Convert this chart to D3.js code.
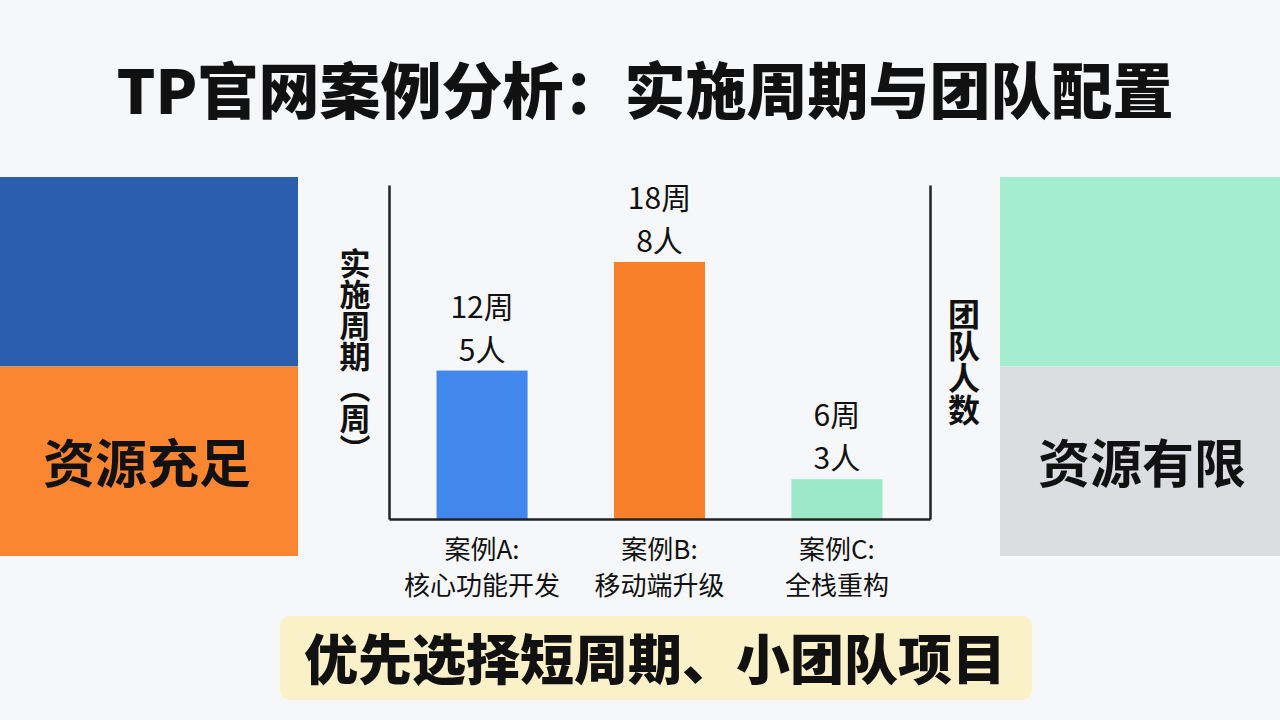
<!DOCTYPE html>
<html>
<head>
<meta charset="utf-8">
<script src="https://cdn.jsdelivr.net/npm/d3@7"></script>
<style>
  html, body { margin: 0; padding: 0; background: #f6f7f9; }
  svg { display: block; font-family: "Noto Sans CJK SC", "Noto Sans", sans-serif; }
</style>
</head>
<body>
<svg id="drawing_region"></svg>
<script>
// chart data
const cases = ['案例A:', '案例B:', '案例C:'];
const caseNames = ['核心功能开发', '移动端升级', '全栈重构'];
const weeks = [12, 18, 6];
const people = [5, 8, 3];
const barColors = ['#4287ec', '#f9802a', '#9de8c9'];

// side panels
const leftColors = ['#2b5fad', '#fb8631'];
const rightColors = ['#a4edd1', '#dcdde1'];
const leftLabel = '资源充足';
const rightLabel = '资源有限';

const title = 'TP官网案例分析：实施周期与团队配置';
const ylabel = '实施周期（周）';
const y2label = '团队人数';
const banner = '优先选择短周期、小团队项目';

const width = 1280, height = 720;
const svg = d3.select('#drawing_region')
    .attr('width', width)
    .attr('height', height);

svg.append('rect')
    .attr('width', width).attr('height', height)
    .attr('fill', '#f6f7f9');

// title
svg.append('text')
    .attr('x', 645)
    .attr('y', 114)
    .attr('text-anchor', 'middle')
    .style('font-size', '61px')
    .style('font-weight', 900)
    .attr('fill', '#111')
    .text(title);

// side panels, two halves each
const panelY = d3.scaleBand().domain([0, 1]).range([177, 556]);

const left = svg.append('g');
left.selectAll('rect')
    .data(leftColors)
    .join('rect')
    .attr('x', 0)
    .attr('y', (d, i) => panelY(i))
    .attr('width', 298)
    .attr('height', panelY.bandwidth())
    .attr('fill', d => d);
left.append('text')
    .attr('x', 147)
    .attr('y', 483)
    .attr('text-anchor', 'middle')
    .style('font-size', '52px')
    .style('font-weight', 700)
    .attr('fill', '#111')
    .text(leftLabel);

const right = svg.append('g');
right.selectAll('rect')
    .data(rightColors)
    .join('rect')
    .attr('x', 1000)
    .attr('y', (d, i) => panelY(i))
    .attr('width', 280)
    .attr('height', panelY.bandwidth())
    .attr('fill', d => d);
right.append('text')
    .attr('x', 1142)
    .attr('y', 483)
    .attr('text-anchor', 'middle')
    .style('font-size', '52px')
    .style('font-weight', 700)
    .attr('fill', '#111')
    .text(rightLabel);

// bar chart
const plot = {left: 389, right: 930, top: 185, bottom: 519};

const xscale = d3.scaleBand()
    .domain(cases)
    .range([plot.left, plot.right])
    .paddingInner(0.487)
    .paddingOuter(0.268);

const yscale = d3.scaleLinear()
    .domain([3.8, 22.25])
    .range([plot.bottom, plot.top]);

const chart = svg.append('g');

chart.selectAll('rect.bar')
    .data(weeks)
    .join('rect')
    .attr('class', 'bar')
    .attr('x', (d, i) => xscale(cases[i]))
    .attr('y', d => yscale(d))
    .attr('width', xscale.bandwidth())
    .attr('height', d => plot.bottom - yscale(d))
    .attr('fill', (d, i) => barColors[i]);

// value labels
const labels = chart.selectAll('text.val')
    .data(weeks)
    .join('text')
    .attr('class', 'val')
    .attr('text-anchor', 'middle')
    .style('font-size', '30px')
    .attr('fill', '#111');
labels.append('tspan')
    .attr('x', (d, i) => xscale(cases[i]) + xscale.bandwidth() / 2)
    .attr('y', d => yscale(d) - 53)
    .text(d => d + '周');
labels.append('tspan')
    .attr('x', (d, i) => xscale(cases[i]) + xscale.bandwidth() / 2)
    .attr('y', d => yscale(d) - 10)
    .text((d, i) => people[i] + '人');

// axes lines (no ticks)
const xaxis = d3.axisBottom(xscale).tickSize(0).tickFormat('');
chart.append('g')
    .attr('transform', `translate(0, ${plot.bottom})`)
    .call(xaxis)
    .call(g => g.select('.domain').attr('stroke', '#222').attr('stroke-width', 2.5));

const yaxis = d3.axisLeft(yscale).tickSize(0).tickValues([]).tickSizeOuter(0);
chart.append('g')
    .attr('transform', `translate(${plot.left}, 0)`)
    .call(yaxis)
    .call(g => g.select('.domain').attr('stroke', '#222').attr('stroke-width', 2.5));

const yaxis2 = d3.axisRight(yscale).tickSize(0).tickValues([]).tickSizeOuter(0);
chart.append('g')
    .attr('transform', `translate(${plot.right}, 0)`)
    .call(yaxis2)
    .call(g => g.select('.domain').attr('stroke', '#222').attr('stroke-width', 2.5));

// category labels
const cats = chart.selectAll('text.cat')
    .data(cases)
    .join('text')
    .attr('class', 'cat')
    .attr('text-anchor', 'middle')
    .style('font-size', '26px')
    .attr('fill', '#111');
cats.append('tspan')
    .attr('x', d => xscale(d) + xscale.bandwidth() / 2)
    .attr('y', 559)
    .text(d => d);
cats.append('tspan')
    .attr('x', d => xscale(d) + xscale.bandwidth() / 2)
    .attr('y', 595)
    .text((d, i) => caseNames[i]);

// axis titles, vertical
svg.append('text')
    .attr('x', 355)
    .attr('y', 248)
    .style('writing-mode', 'vertical-rl')
    .style('font-size', '31px')
    .style('font-weight', 700)
    .attr('fill', '#111')
    .text(ylabel);

svg.append('text')
    .attr('x', 964)
    .attr('y', 298)
    .style('writing-mode', 'vertical-rl')
    .style('font-size', '32px')
    .style('font-weight', 700)
    .attr('fill', '#111')
    .text(y2label);

// bottom banner
svg.append('rect')
    .attr('x', 280)
    .attr('y', 616)
    .attr('width', 752)
    .attr('height', 84)
    .attr('rx', 10)
    .attr('fill', '#fbf1c9');
svg.append('text')
    .attr('x', 655)
    .attr('y', 680)
    .attr('text-anchor', 'middle')
    .style('font-size', '54px')
    .style('font-weight', 900)
    .attr('fill', '#111')
    .text(banner);
</script>
</body>
</html>
